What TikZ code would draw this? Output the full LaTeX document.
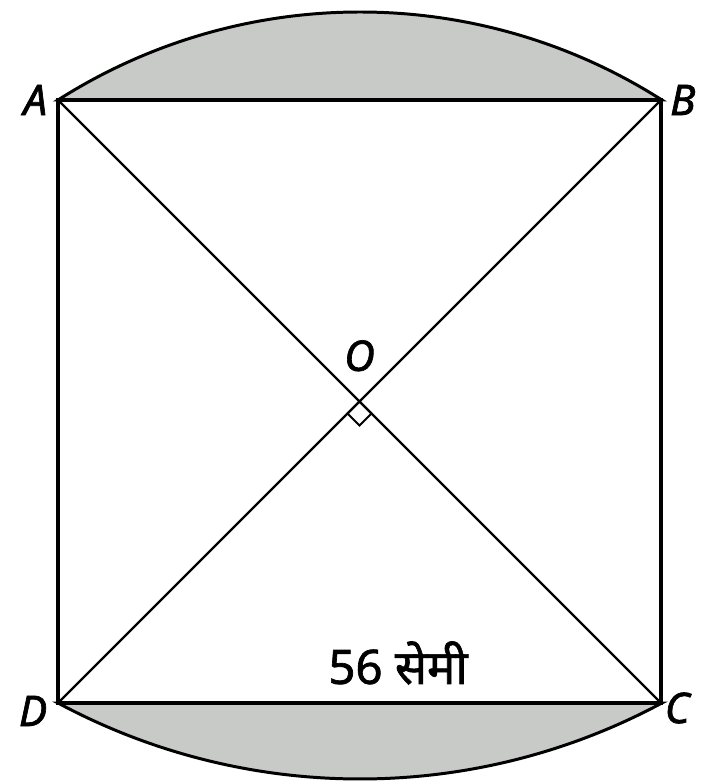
\documentclass[tikz,border=0pt]{standalone}
\usepackage{fontspec}
\setmainfont{Noto Sans}
\newfontfamily\lblfont{Noto Sans}[FakeBold=1.6]
\newfontfamily\hindifont{Noto Sans}[Script=Devanagari, FakeBold=1.4]
\usepackage{tikz}
\usetikzlibrary{positioning}
\usepackage{xcolor}
\definecolor{mygray}{RGB}{200,202,200}

\begin{document}
\begin{tikzpicture}[x=0.02cm,y=0.02cm,
    lbl/.style={font=\fontsize{24}{26}\selectfont\lblfont\itshape, inner sep=0pt}]
  \useasboundingbox (0,0) rectangle (704,781);

  \coordinate (A) at (58,681);
  \coordinate (B) at (661,681);
  \coordinate (C) at (661,78);
  \coordinate (D) at (58,78);
  \coordinate (O) at (359.5,379.5);

  % shaded segments
  \filldraw[fill=mygray, line width=1.7pt] (A) arc[start angle=122.5, end angle=57.5, radius=562] -- cycle;
  \filldraw[fill=mygray, line width=1.7pt] (D) arc[start angle=241.75, end angle=298.25, radius=638] -- cycle;

  % square and diagonals
  \draw[line width=1.9pt] (A) -- (B) -- (C) -- (D) -- cycle;
  \draw[line width=1.3pt] (A) -- (C) (B) -- (D);

  % right angle at O
  \draw[line width=1.1pt] (O) -- ++(-12,-12) -- ++(12,-12) -- ++(12,12) -- cycle;

  % labels
  \node[lbl, left=6pt of A] (la) {A};
  \node[lbl, right=5pt of B] (lb) {B};
  \node[lbl, right=2pt of C, yshift=-0.1cm] (lc) {C};
  \node[lbl, left=6pt of D, yshift=-0.16cm] (ld) {D};
  \node[lbl, above=17pt of O] (lo) {O};
  \node[font=\fontsize{27}{30}\selectfont\hindifont, inner sep=0pt] (len) at (398,118) {56 सेमी};
\end{tikzpicture}
\end{document}
